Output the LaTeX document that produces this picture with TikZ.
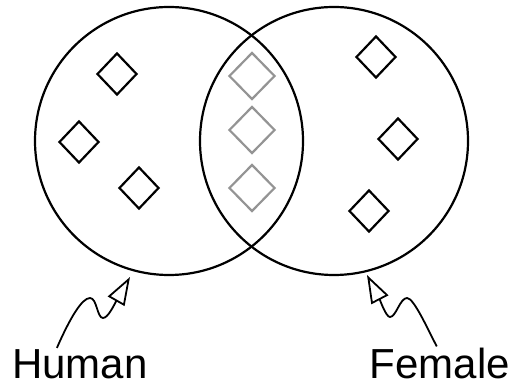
\documentclass[tikz,border=0pt]{standalone}
\usepackage{fontspec}
\setmainfont{Liberation Sans}
\usetikzlibrary{shapes.geometric,arrows.meta}

\begin{document}
\begin{tikzpicture}[x=1pt,y=-1pt,
	set/.style={shape=circle,draw=black,line width=2.2pt,minimum size=268pt,inner sep=0pt},
	elem/.style={shape=diamond,draw=black,line width=2.2pt,minimum width=40pt,minimum height=42pt,inner sep=0pt},
	both/.style={elem,draw=black!42,minimum width=46pt,minimum height=47pt},
	tag/.style={font=\fontsize{42}{46}\selectfont,inner sep=1pt},
	pointer/.style={line width=1.8pt,-{Triangle[open,length=28pt,width=19pt]}}]
	\useasboundingbox (0,0) rectangle (514,387);
	\node[set] (human) at (169,141) {};
	\node[set] (female) at (334,141) {};
	\node[elem] (h1) at (117,74) {};
	\node[elem] (h2) at (79,142) {};
	\node[elem] (h3) at (139,188) {};
	\node[both] (b1) at (252,76) {};
	\node[both] (b2) at (252,130) {};
	\node[both] (b3) at (252,188) {};
	\node[elem] (f1) at (376,57) {};
	\node[elem] (f2) at (398,139) {};
	\node[elem] (f3) at (369,211) {};
	\node[tag,anchor=base west] (hname) at (11,378) {Human};
	\node[tag,anchor=base east] (fname) at (511,378) {Female};
	\coordinate (htip) at (130,277);
	\coordinate (ftip) at (367,275);
	\draw[pointer] ([xshift=-23pt]hname.north) .. controls (70,318) and (82,298) .. (90,298) .. controls (97,298) and (97,318) .. (103,318) .. controls (108,318) and (114,305) .. (htip);
	\draw[pointer] ([xshift=-3pt]fname.north) .. controls (428,330) and (414,298) .. (407,298) .. controls (400,298) and (396,317) .. (390,317) .. controls (386,317) and (380,300) .. (ftip);
\end{tikzpicture}
\end{document}
